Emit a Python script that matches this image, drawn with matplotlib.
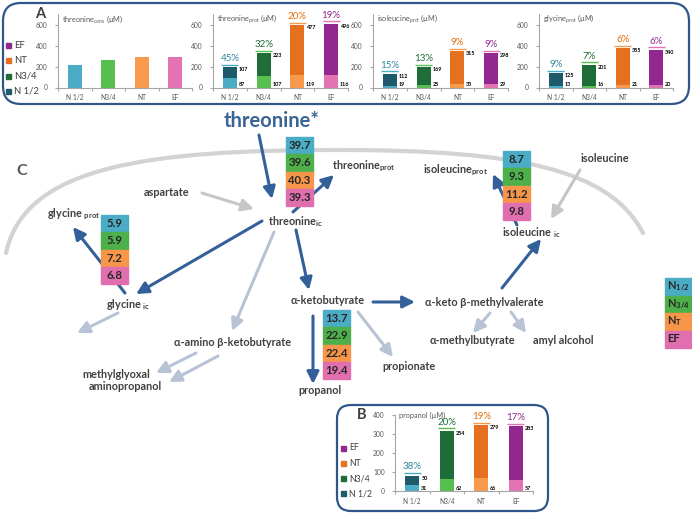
import numpy as np
import matplotlib.pyplot as plt
from matplotlib.patches import FancyBboxPatch, Rectangle, PathPatch
from matplotlib.path import Path
from matplotlib.transforms import offset_copy

plt.rcParams['font.family'] = ['Lato', 'DejaVu Sans']
plt.rcParams['mathtext.default'] = 'regular'

# data
groups = ['N 1/2', 'N3/4', 'NT', 'EF']
thr_cons = [219, 264, 295, 295]
thr_prot_low = [87, 107, 119, 116]
thr_prot_high = [107, 223, 477, 496]
ile_prot_low = [19, 25, 33, 29]
ile_prot_high = [112, 169, 315, 298]
gly_prot_low = [13, 16, 21, 20]
gly_prot_high = [125, 201, 355, 340]
prop_low = [31, 62, 66, 57]
prop_high = [50, 254, 279, 283]

thr_ic_vals = [39.7, 39.6, 40.3, 39.3]
gly_ic_vals = [5.9, 5.9, 7.2, 6.8]
ile_ic_vals = [8.7, 9.3, 11.2, 9.8]
akb_vals = [13.7, 22.9, 22.4, 19.4]
key_labels = ['N$_{1/2}$', 'N$_{3/4}$', 'N$_{T}$', 'EF']

light = ['#4bacc6', '#55bf4f', '#f89a4c', '#e473b3']
dark = ['#1f5a6b', '#1e6c37', '#e5701f', '#91278f']
pct_col = ['#31849b', '#1e6c37', '#e46c0a', '#8e2a8e']
cell_col = ['#4bacc6', '#4eb04b', '#f7964a', '#e16fb0']
blue = '#34609a'
pale = '#b8c3d6'
grey = '#c6c6c6'
txt = '#404040'

W, H = 692, 513
fig = plt.figure(figsize=(W / 100, H / 100), dpi=100)
ax = fig.add_axes([0, 0, 1, 1])
ax.set_xlim(0, W)
ax.set_ylim(H, 0)
ax.axis('off')


def px_axes(x0, x1, ytop, ybot):
    return fig.add_axes([x0 / W, 1 - ybot / H, (x1 - x0) / W, (ybot - ytop) / H])


def style(a, ymax, yticks, title):
    a.set_facecolor('none')
    a.set_xlim(-0.5, 3.5)
    a.set_ylim(0, ymax)
    for s in ['top', 'right']:
        a.spines[s].set_visible(False)
    for s in ['left', 'bottom']:
        a.spines[s].set_color('#a6a6a6')
        a.spines[s].set_linewidth(0.8)
    a.set_yticks(yticks)
    a.set_xticks(range(4))
    a.set_xticklabels(groups)
    a.set_xticks(np.arange(-0.5, 4, 1), minor=True)
    a.tick_params(axis='x', which='major', length=0, labelsize=4.8, labelcolor='#595959', pad=5)
    a.tick_params(axis='x', which='minor', length=2.5, color='#a6a6a6', width=0.8)
    a.tick_params(axis='y', length=2.5, color='#a6a6a6', width=0.8, labelsize=4.8,
                  labelcolor='#595959', pad=5)
    a.text(0.03, 0.93, title, transform=a.transAxes, fontsize=5.3, color='#595959', va='center')


def stacked(a, low, high):
    x = np.arange(4)
    tot = np.add(low, high)
    a.bar(x, low, 0.42, color=light)
    a.bar(x, high, 0.42, bottom=low, color=dark)
    up = offset_copy(a.transData, fig=fig, y=2.5, units='dots')
    for i in range(4):
        a.text(i + 0.26, tot[i], str(high[i]), fontsize=3.9, fontweight='bold', va='top', ha='left')
        a.text(i + 0.26, 0, str(low[i]), fontsize=3.9, fontweight='bold', va='bottom', ha='left')
        pct = round(100 * low[i] / tot[i])
        a.plot([i - 0.25, i + 0.25], [tot[i], tot[i]], color=light[i], lw=1, transform=up,
               solid_capstyle='butt')
        a.annotate(f'{pct}%', (i, tot[i]), xytext=(0, 3), textcoords='offset points',
                   ha='center', va='bottom', fontsize=7, color=pct_col[i])


# panel A frame
ax.add_patch(FancyBboxPatch((3, 3), 686, 101, boxstyle='round,pad=0,rounding_size=18',
                            fc='none', ec='#2f5689', lw=1.6))
ax.text(40, 14, 'A', fontsize=10.5, fontweight='bold', color=txt, ha='center', va='center')
for k, (lab, c) in enumerate(zip(['EF', 'NT', 'N3/4', 'N 1/2'], dark[::-1])):
    y = 45 + k * 15.5
    ax.add_patch(Rectangle((6, y - 2.5), 5, 5, color=c))
    ax.text(14, y, lab, fontsize=6.8, color=txt, va='center')

a1 = px_axes(58, 192, 14.5, 87.5)
style(a1, 700, [0, 200, 400, 600], 'threonine$_{cons}$ (µM)')
a1.bar(np.arange(4), thr_cons, 0.42, color=light)

a2 = px_axes(213, 348, 14.5, 87.5)
style(a2, 700, [0, 200, 400, 600], 'threonine$_{prot}$ (µM)')
stacked(a2, thr_prot_low, thr_prot_high)

a3 = px_axes(373, 508, 14.5, 87.5)
style(a3, 700, [0, 200, 400, 600], 'isoleucine$_{prot}$ (µM)')
stacked(a3, ile_prot_low, ile_prot_high)

a4 = px_axes(539, 673, 14.5, 87.5)
style(a4, 700, [0, 200, 400, 600], 'glycine$_{prot}$ (µM)')
stacked(a4, gly_prot_low, gly_prot_high)

# panel B frame
ax.add_patch(FancyBboxPatch((337, 405), 211, 106, boxstyle='round,pad=0,rounding_size=14',
                            fc='none', ec='#2f5689', lw=1.6))
ax.text(362, 415, 'B', fontsize=10.5, fontweight='bold', color=txt, ha='center', va='center')
for k, (lab, c) in enumerate(zip(['EF', 'NT', 'N3/4', 'N 1/2'], dark[::-1])):
    y = 448 + k * 15.3
    ax.add_patch(Rectangle((341, y - 2.5), 5, 5, color=c))
    ax.text(349, y, lab, fontsize=6.3, color=txt, va='center')

b1 = px_axes(395, 533, 415, 491)
style(b1, 400, [0, 100, 200, 300, 400], 'propanol (µM)')
b1.texts[-1].set_position((0.03, 1.0))
stacked(b1, prop_low, prop_high)

# panel C: membrane arc
verts = [(6, 253), (25, 165), (150, 150), (340, 150), (520, 150), (610, 170), (643, 233)]
codes = [Path.MOVETO] + [Path.CURVE4] * 6
ax.add_patch(PathPatch(Path(verts, codes), fc='none', ec='#d3d3d3', lw=3, capstyle='round'))
ax.text(22, 171, 'C', fontsize=11.5, fontweight='bold', color='#595959', ha='center', va='center')


def arrow(x0, y0, x1, y1, c):
    ax.annotate('', xy=(x1, y1), xytext=(x0, y0), zorder=2,
                arrowprops=dict(arrowstyle='-|>,head_length=0.6,head_width=0.3', color=c,
                                lw=2.2, shrinkA=0, shrinkB=0, mutation_scale=12))


arrow(259, 135, 272, 199, blue)
arrow(293, 212, 334, 175, blue)
arrow(262, 221, 136, 294, blue)
arrow(125, 293, 73, 227, blue)
arrow(296, 230, 309, 290, blue)
arrow(313, 316, 313, 384, blue)
arrow(373, 302, 415, 302, blue)
arrow(502, 288, 541, 239, blue)
arrow(517, 225, 493, 174, blue)
arrow(274, 232, 232, 331, pale)
arrow(118, 313, 77, 333, pale)
arrow(196, 353, 156, 373, pale)
arrow(218, 356, 169, 382, pale)
arrow(358, 312, 393, 357, pale)
arrow(490, 313, 473, 333, pale)
arrow(511, 312, 526, 333, pale)
arrow(202, 193, 254, 209, grey)
arrow(580, 170, 551, 219, grey)


def cells(x, y, vals, w=27, h=17.3):
    for k, v in enumerate(vals):
        ax.add_patch(Rectangle((x, y + k * h), w, h, color=cell_col[k], zorder=4))
        ax.text(x + w / 2, y + k * h + h / 2, f'{v:.1f}', fontsize=8.2, fontweight='bold',
                color='#262626', ha='center', va='center', zorder=5)


cells(286, 137, thr_ic_vals)
cells(101, 215, gly_ic_vals)
cells(503, 151, ile_ic_vals)
cells(323, 310, akb_vals)

# key on the right
for k, lab in enumerate(key_labels):
    ax.add_patch(Rectangle((665, 278 + k * 17.5), 27, 17.5, color=cell_col[k], zorder=4))
    ax.text(667, 278 + k * 17.5 + 8.5, lab, fontsize=8, fontweight='bold', color='#262626',
            ha='left', va='center', zorder=5)

ax.text(272, 121, 'threonine*', fontsize=14.5, fontweight='bold', color='#3a6494',
        ha='center', va='center')


def label(x, y, s, ha='center', va='center'):
    ax.text(x, y, s, fontsize=7.8, fontweight='bold', color=txt, ha=ha, va=va, zorder=3)


label(268, 225, 'threonine$_{ic}$', ha='left', va='baseline')
label(332, 169, 'threonine$_{prot}$', ha='left', va='baseline')
label(47, 217, 'glycine $_{prot}$', ha='left', va='baseline')
label(423, 173, 'isoleucine$_{prot}$', ha='left', va='baseline')
label(502, 236, 'isoleucine $_{ic}$', ha='left', va='baseline')
label(106, 308, 'glycine $_{ic}$', ha='left', va='baseline')
label(580, 162, 'isoleucine', ha='left', va='baseline')
label(167, 192, 'aspartate')
label(328, 301, 'α-ketobutyrate')
label(484, 302, 'α-keto β-methylvalerate')
label(472, 341, 'α-methylbutyrate')
label(563, 341, 'amyl alcohol')
label(409, 367, 'propionate')
label(320, 391, 'propanol')
label(233, 343, 'α-amino β-ketobutyrate')
label(116, 374, 'methylglyoxal')
label(125, 386, 'aminopropanol')

fig.savefig('out.png', dpi=100)
